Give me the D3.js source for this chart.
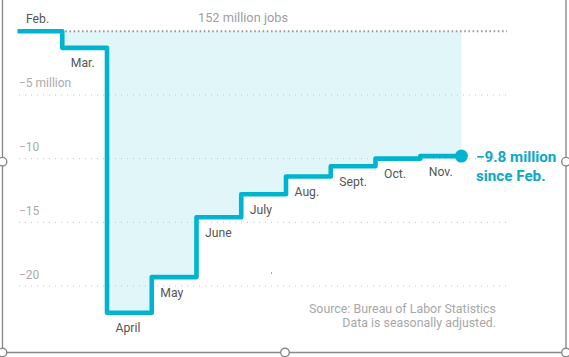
<!DOCTYPE html>
<html>
<head>
<meta charset="utf-8">
<script src="https://cdn.jsdelivr.net/npm/d3@7"></script>
<style>
  html, body { margin: 0; padding: 0; background: #fff; }
  svg { display: block; }
  text { font-family: Roboto, "Noto Sans", sans-serif; }
</style>
</head>
<body>
<svg id="chart" width="569" height="357"></svg>
<script>
// ---- data ----
const months = ["Feb.", "Mar.", "April", "May", "June", "July", "Aug.", "Sept.", "Oct.", "Nov."];
const changeSinceFeb = [0, -1.3, -22.1, -19.3, -14.6, -12.8, -11.4, -10.6, -10.0, -9.8];
const lastIndex = 9.92;           // position of the latest reading within Nov.
const gridValues = [-5, -10, -15, -20];
const gridLabels = ["\u22125 million", "\u221210", "\u221215", "\u221220"];
const baselineLabel = "152 million jobs";
const calloutLines = ["\u22129.8 million", "since Feb."];
const sourceLines = ["Source: Bureau of Labor Statistics", "Data is seasonally adjusted."];

// ---- setup ----
const svg = d3.select("#chart");
const teal = "#00b4cf";
const x = d3.scaleLinear().domain([0, 10]).range([17.5, 465]);
const y = d3.scaleLinear().domain([0, -20]).range([31.3, 286]);

const pts = changeSinceFeb.map((v, i) => ({ i, v }));
pts.push({ i: lastIndex, v: changeSinceFeb[changeSinceFeb.length - 1] });

// ---- area fill ----
const area = d3.area()
  .x(d => x(d.i))
  .y0(y(0))
  .y1(d => y(d.v))
  .curve(d3.curveStepAfter);
svg.append("path").datum(pts)
  .attr("d", area)
  .attr("fill", "#e1f6f9");

// ---- gridlines ----
const gridX0 = 19, gridX1 = 507;
svg.selectAll(".grid").data(gridValues).enter().append("line")
  .attr("x1", gridX0).attr("x2", gridX1)
  .attr("y1", d => y(d)).attr("y2", d => y(d))
  .attr("stroke", "#c4c4c4").attr("stroke-width", 1)
  .attr("stroke-dasharray", "1,5");
svg.selectAll(".gl").data(gridValues).enter().append("text")
  .attr("x", gridX0).attr("y", d => y(d) - 7.5)
  .attr("font-size", 12).attr("fill", "#aaa")
  .text((d, i) => gridLabels[i]);

// zero line
svg.append("line")
  .attr("x1", gridX0).attr("x2", gridX1)
  .attr("y1", y(0)).attr("y2", y(0))
  .attr("stroke", "#999").attr("stroke-width", 2)
  .attr("stroke-dasharray", "1.6,2.6");
svg.append("text")
  .attr("x", 243).attr("y", y(0) - 9)
  .attr("text-anchor", "middle")
  .attr("font-size", 12.8).attr("fill", "#a0a0a0")
  .text(baselineLabel);

// ---- step line ----
const line = d3.line()
  .x(d => x(d.i))
  .y(d => y(d.v))
  .curve(d3.curveStepAfter);
svg.append("path").datum(pts)
  .attr("d", line)
  .attr("fill", "none")
  .attr("stroke", teal)
  .attr("stroke-width", 4.6)
  .attr("stroke-linejoin", "round");

svg.append("circle")
  .attr("cx", x(lastIndex)).attr("cy", y(pts[pts.length - 1].v))
  .attr("r", 6.5).attr("fill", teal);

// ---- month labels ----
svg.selectAll(".ml").data(months).enter().append("text")
  .attr("x", (d, i) => x(i) + 8.5)
  .attr("y", (d, i) => i === 0 ? y(changeSinceFeb[i]) - 8.5 : y(changeSinceFeb[i]) + 19.5)
  .attr("font-size", 12.2).attr("fill", "#555")
  .text(d => d);

// ---- callout ----
svg.selectAll(".co").data(calloutLines).enter().append("text")
  .attr("x", 476).attr("y", (d, i) => 161.7 + i * 19)
  .attr("font-size", 15.2).attr("font-weight", "bold").attr("fill", "#0aa9c8")
  .text(d => d);

// ---- source ----
svg.selectAll(".src").data(sourceLines).enter().append("text")
  .attr("x", 496).attr("y", (d, i) => 312.7 + i * 14.6)
  .attr("text-anchor", "end")
  .attr("font-size", 12.4).attr("fill", "#a8a8a8")
  .text(d => d);

// stray mark
svg.append("rect").attr("x", 271).attr("y", 272.5).attr("width", 1).attr("height", 1).attr("fill", "#3050d0");

// ---- selection frame (as in the reference picture) ----
const frame = svg.append("g").attr("stroke", "#8a8a8a").attr("stroke-width", 1.4).attr("fill", "none");
frame.append("line").attr("x1", 2.5).attr("x2", 2.5).attr("y1", 0).attr("y2", 352.5);
frame.append("line").attr("x1", 566).attr("x2", 566).attr("y1", 0).attr("y2", 352.5);
frame.append("line").attr("x1", 2.5).attr("x2", 566).attr("y1", 352.5).attr("y2", 352.5);
const handles = [[2.5, 161.7], [566, 161.7], [2.5, 352.5], [285, 352.5], [566, 352.5]];
frame.selectAll("circle").data(handles).enter().append("circle")
  .attr("cx", d => d[0]).attr("cy", d => d[1]).attr("r", 4.3)
  .attr("fill", "#fff");
</script>
</body>
</html>
